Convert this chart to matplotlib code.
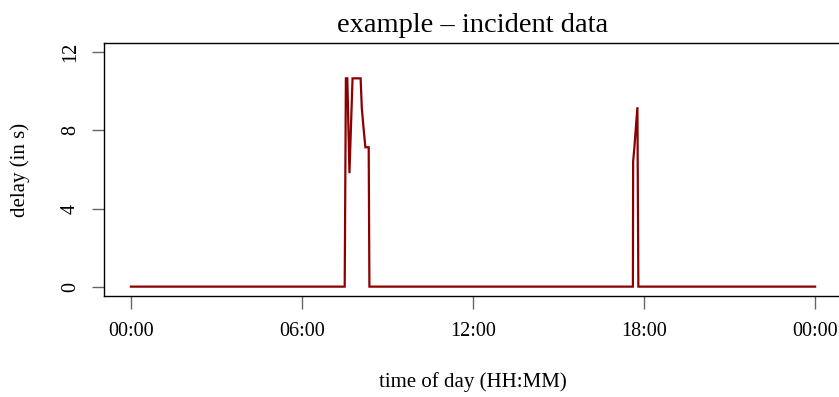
import matplotlib
matplotlib.use("Agg")
import matplotlib.pyplot as plt
from matplotlib.ticker import FixedLocator

# minutes after midnight and delay in seconds
minutes = [0, 450, 452.5, 455.5, 460, 466.5, 483.5, 486, 490, 493.5, 500.5, 502,
           1056.5, 1057, 1059.5, 1066, 1068, 1440]
delay = [0, 0, 10.67, 10.67, 5.81, 10.67, 10.67, 9.15, 8.03, 7.14, 7.14, 0,
         0, 6.41, 7.09, 9.19, 0, 0]

xticks = [0, 360, 720, 1080, 1440]
xtick_labels = ["00:00", "06:00", "12:00", "18:00", "00:00"]
yticks = [0, 4, 8, 12]

plt.rcParams['font.family'] = ['Liberation Serif', 'DejaVu Serif']

W, H = 839, 397
fig = plt.figure(figsize=(W / 100, H / 100), dpi=100)
# plot region in pixels; right edge falls outside the picture like the original
left, right, top, bottom = 103.5, 842.5, 43, 296
ax = fig.add_axes([left / W, 1 - bottom / H, (right - left) / W, (bottom - top) / H])

ax.plot(minutes, delay, color="#8b0000", lw=1.6, solid_joinstyle="miter")

ax.set_xlim(-0.04 * 1440, 1.04 * 1440)
ax.set_ylim(-0.48, 12.48)
ax.xaxis.set_major_locator(FixedLocator(xticks))
ax.set_xticklabels(xtick_labels)
ax.set_yticks(yticks)
ax.set_yticklabels([str(v) for v in yticks], rotation=90, va="center")
ax.tick_params(axis="both", direction="out", length=9, width=1, color="#666666",
               labelsize=14.5, pad=10)
ax.tick_params(axis="y", pad=8)
for s in ax.spines.values():
    s.set_linewidth(1)
    s.set_color("black")

ax.set_title("example \u2013 incident data", fontsize=20.5, pad=8)
ax.set_xlabel("time of day (HH:MM)", fontsize=15, labelpad=22)
ax.set_ylabel("delay (in s)", fontsize=15, labelpad=22)

fig.savefig("out.png", dpi=100)
